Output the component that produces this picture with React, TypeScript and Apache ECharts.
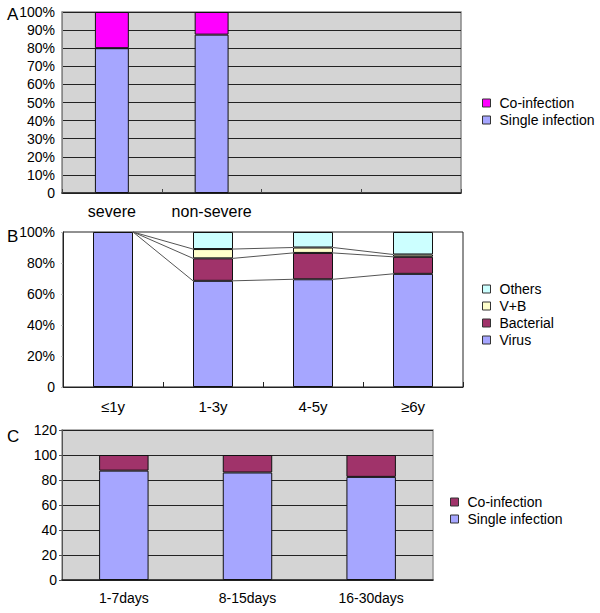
import React, { useEffect, useRef } from "react";
import * as echarts from "echarts";

const catsA = ["severe", "non-severe", "", ""];
const singleA = [80, 87.5, null, null];
const coA = [20, 12.5, null, null];

const catsB = ["≤1y", "1-3y", "4-5y", "≥6y"];
const virusB = [100, 68.5, 69.5, 73];
const bactB = [0, 14.5, 17, 11];
const vbB = [0, 6, 3.5, 1.5];
const othersB = [0, 11, 10, 14.5];

const catsC = ["1-7days", "8-15days", "16-30days"];
const singleC = [87.5, 86, 82.5];
const coC = [12.5, 14, 17.5];

const FONT = "Liberation Sans";
const LAV = "#a6a6ff";
const MAG = "#ff00ff";
const PLUM = "#a0336a";
const VB = "#ffffcc";
const OTH = "#ccffff";
const GRAY = "#d4d4d4";

export default function App() {
  const ref = useRef<HTMLDivElement>(null);
  useEffect(() => {
    if (!ref.current) return;
    const chart = echarts.init(ref.current, null, { renderer: "svg" });
    const cumV = virusB.map((v) => v);
    const cumB = virusB.map((v, i) => v + bactB[i]);
    const cumVB = virusB.map((v, i) => v + bactB[i] + vbB[i]);
    const pct = (v: number) => (v === 0 ? "0" : v + "%");
    const nz = (arr: number[]) => arr.map((v) => (v === 0 ? null : v));
    const barStyle = (c: string) => ({ color: c, borderColor: "#111", borderWidth: 1 });
    const labelStyle = { color: "#000", fontFamily: FONT };

    chart.setOption({
      animation: false,
      textStyle: { fontFamily: FONT },
      grid: [
        { left: 62, top: 12, width: 399, height: 181, show: true, backgroundColor: GRAY, borderColor: "#888", borderWidth: 1.5 },
        { left: 63, top: 232, width: 400, height: 155, show: true, backgroundColor: "#fff", borderColor: "#222", borderWidth: 1 },
        { left: 62, top: 430, width: 371, height: 150, show: true, backgroundColor: GRAY, borderColor: "#999", borderWidth: 1.5 },
      ],
      xAxis: [
        {
          gridIndex: 0, type: "category", data: catsA,
          axisLine: { lineStyle: { color: "#222", width: 1.5 } },
          axisTick: { show: true, inside: true, length: 4, lineStyle: { color: "#444" } },
          axisLabel: { ...labelStyle, fontSize: 16, margin: 10, interval: 0 },
        },
        {
          gridIndex: 1, type: "category", data: catsB,
          axisLine: { lineStyle: { color: "#222", width: 1 } },
          axisTick: { show: true, inside: true, length: 5, lineStyle: { color: "#222" } },
          axisLabel: { ...labelStyle, fontSize: 15, margin: 12, interval: 0 },
        },
        {
          gridIndex: 2, type: "category", data: catsC,
          axisLine: { lineStyle: { color: "#222", width: 1.5 } },
          axisTick: { show: false },
          axisLabel: { ...labelStyle, fontSize: 14, margin: 11, interval: 0 },
        },
      ],
      yAxis: [
        {
          gridIndex: 0, type: "value", min: 0, max: 100, interval: 10,
          axisLine: { show: true, lineStyle: { color: "#888" } },
          axisTick: { show: false },
          splitLine: { show: true, lineStyle: { color: "#222", width: 1.2 } },
          axisLabel: { ...labelStyle, fontSize: 14, margin: 7, formatter: pct },
        },
        {
          gridIndex: 1, type: "value", min: 0, max: 100, interval: 20,
          axisLine: { show: true, lineStyle: { color: "#222" } },
          axisTick: { show: true, length: 2, lineStyle: { color: "#bbb" } },
          splitLine: { show: false },
          axisLabel: { ...labelStyle, fontSize: 14, margin: 8, formatter: pct },
        },
        {
          gridIndex: 2, type: "value", min: 0, max: 120, interval: 20,
          axisLine: { show: true, lineStyle: { color: "#555" } },
          axisTick: { show: true, length: 3, lineStyle: { color: "#555" } },
          splitLine: { show: true, lineStyle: { color: "#222", width: 1.2 } },
          axisLabel: { ...labelStyle, fontSize: 14, margin: 5 },
        },
      ],
      legend: [
        {
          orient: "vertical", left: 477, top: 91, itemWidth: 8, itemHeight: 8, itemGap: 3,
          data: [
            { name: "Co-infection", itemStyle: { color: MAG, borderColor: "#333", borderWidth: 1 } },
            { name: "Single infection", itemStyle: { color: LAV, borderColor: "#333", borderWidth: 1 } },
          ],
          icon: "rect",
          textStyle: { ...labelStyle, fontSize: 14, lineHeight: 14, padding: [0, 0, 0, 4] },
        },
        {
          orient: "vertical", left: 477, top: 277, itemWidth: 8, itemHeight: 8, itemGap: 3,
          data: [
            { name: "Others", itemStyle: { color: OTH, borderColor: "#333", borderWidth: 1 } },
            { name: "V+B", itemStyle: { color: VB, borderColor: "#333", borderWidth: 1 } },
            { name: "Bacterial", itemStyle: { color: PLUM, borderColor: "#333", borderWidth: 1 } },
            { name: "Virus", itemStyle: { color: LAV, borderColor: "#333", borderWidth: 1 } },
          ],
          icon: "rect",
          textStyle: { ...labelStyle, fontSize: 14, lineHeight: 14, padding: [0, 0, 0, 4] },
        },
        {
          orient: "vertical", left: 445, top: 490, itemWidth: 8, itemHeight: 8, itemGap: 3,
          data: [
            { name: "Co-infection", itemStyle: { color: PLUM, borderColor: "#333", borderWidth: 1 } },
            { name: "Single infection", itemStyle: { color: LAV, borderColor: "#333", borderWidth: 1 } },
          ],
          icon: "rect",
          textStyle: { ...labelStyle, fontSize: 14, lineHeight: 14, padding: [0, 0, 0, 4] },
        },
      ],
      graphic: [
        { type: "text", left: 7, top: 6, style: { text: "A", fontSize: 17, fontFamily: FONT, fill: "#000" } },
        { type: "text", left: 7, top: 228, style: { text: "B", fontSize: 17, fontFamily: FONT, fill: "#000" } },
        { type: "text", left: 7, top: 428, style: { text: "C", fontSize: 17, fontFamily: FONT, fill: "#000" } },
      ],
      series: [
        { type: "bar", name: "Single infection", xAxisIndex: 0, yAxisIndex: 0, stack: "a", barWidth: "34%", data: singleA, itemStyle: barStyle(LAV) },
        { type: "bar", name: "Co-infection", xAxisIndex: 0, yAxisIndex: 0, stack: "a", barWidth: "34%", data: coA, itemStyle: barStyle(MAG) },
        { type: "bar", name: "Virus", xAxisIndex: 1, yAxisIndex: 1, stack: "b", barWidth: "40%", data: nz(virusB), itemStyle: barStyle(LAV) },
        { type: "bar", name: "Bacterial", xAxisIndex: 1, yAxisIndex: 1, stack: "b", barWidth: "40%", data: nz(bactB), itemStyle: barStyle(PLUM) },
        { type: "bar", name: "V+B", xAxisIndex: 1, yAxisIndex: 1, stack: "b", barWidth: "40%", data: nz(vbB), itemStyle: barStyle(VB) },
        { type: "bar", name: "Others", xAxisIndex: 1, yAxisIndex: 1, stack: "b", barWidth: "40%", data: nz(othersB), itemStyle: barStyle(OTH) },
        {
          type: "custom", name: "lines", xAxisIndex: 1, yAxisIndex: 1, z: 5,
          data: [0, 1, 2].map((i) => [i]),
          encode: { x: 0 },
          renderItem: (params: any, api: any) => {
            const i = api.value(0);
            const bw = api.size([1, 0])[0] * 0.4;
            const children = [cumV, cumB, cumVB].map((arr) => {
              const p1 = api.coord([i, arr[i]]);
              const p2 = api.coord([i + 1, arr[i + 1]]);
              return {
                type: "line",
                shape: { x1: p1[0] + bw / 2, y1: p1[1], x2: p2[0] - bw / 2, y2: p2[1] },
                style: { stroke: "#555", lineWidth: 1 },
              };
            });
            return { type: "group", children };
          },
        },
        { type: "bar", name: "Single infection", xAxisIndex: 2, yAxisIndex: 2, stack: "c", barWidth: "40%", data: singleC, itemStyle: barStyle(LAV) },
        { type: "bar", name: "Co-infection", xAxisIndex: 2, yAxisIndex: 2, stack: "c", barWidth: "40%", data: coC, itemStyle: barStyle(PLUM) },
      ],
    });
    return () => chart.dispose();
  }, []);
  return <div ref={ref} style={{ position: "absolute", left: 0, top: 0, width: 600, height: 613 }} />;
}
